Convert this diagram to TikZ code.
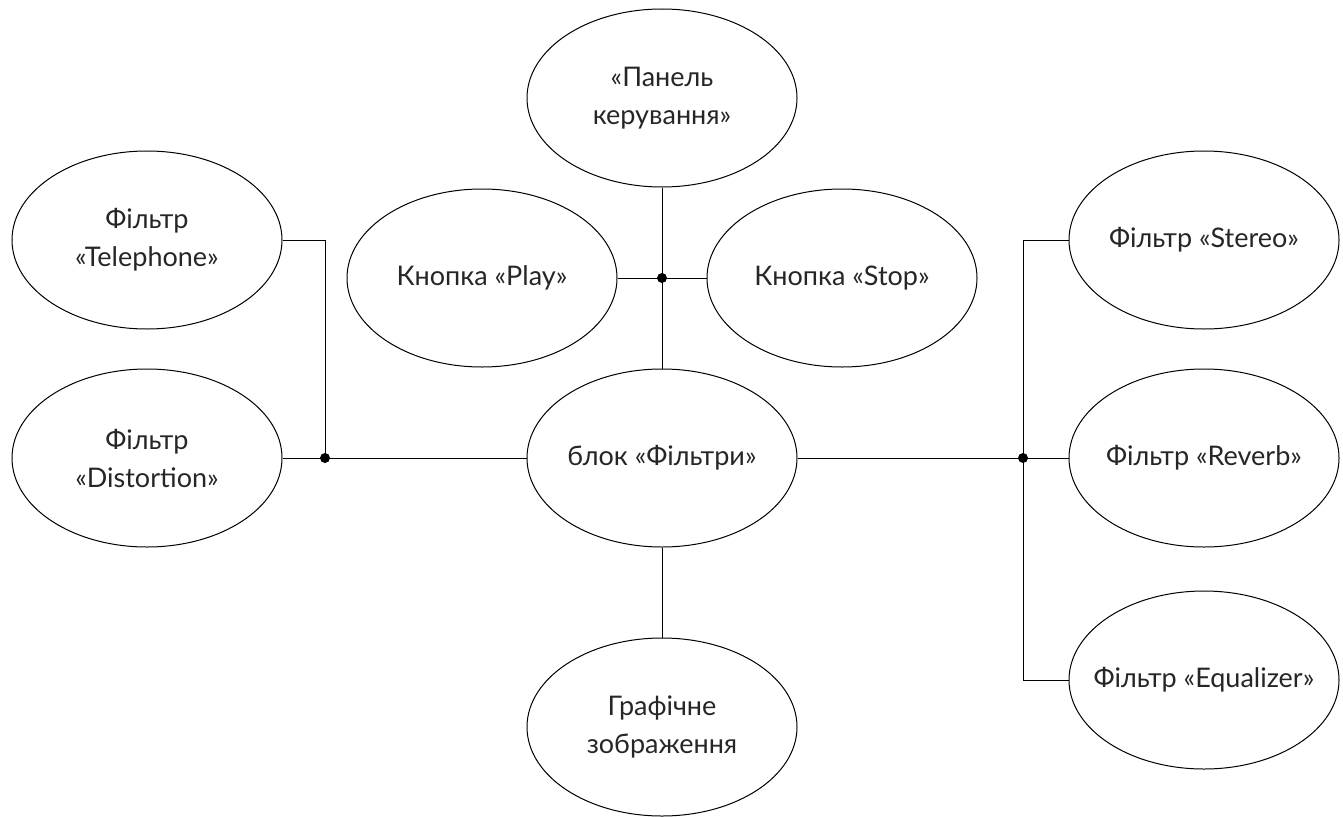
\documentclass[tikz,border=0pt]{standalone}
\usepackage{fontspec}
\setmainfont{Lato}
\usetikzlibrary{shapes.geometric}
\begin{document}
\begin{tikzpicture}[x=1pt,y=-1pt,
  usecase/.style={draw=black, line width=1pt, ellipse, minimum width=270pt, minimum height=178pt, inner sep=0pt,
    label={[lbl]center:#1}},
  lbl/.style={align=center, font=\fontsize{27}{38}\selectfont, text=black!85, inner sep=0pt},
  link/.style={draw=black, line width=1pt},
  junction/.style={circle, fill=black, inner sep=0pt, minimum size=10pt}]
\useasboundingbox (0,0) rectangle (1343,816);
\node[usecase={«Панель\\керування»}] (panel) at (662,98) {};
\node[usecase={Кнопка «Play»}] (play) at (482,278) {};
\node[usecase={Кнопка «Stop»}] (stop) at (842,278) {};
\node[usecase={блок «Фільтри»}] (filters) at (662,458) {};
\node[usecase={Графічне\\зображення}] (graph) at (662,727) {};
\node[usecase={Фільтр\\«Telephone»}] (tel) at (147,240) {};
\node[usecase={Фільтр\\«Distortion»}] (dist) at (147,458) {};
\node[usecase={Фільтр «Stereo»}] (stereo) at (1204,240) {};
\node[usecase={Фільтр «Reverb»}] (reverb) at (1204,458) {};
\node[usecase={Фільтр «Equalizer»}] (eq) at (1204,680) {};
\coordinate (jc) at (662,278);
\coordinate (jl) at (325,458);
\coordinate (jr) at (1023,458);
\draw[link] (panel.south) -- (filters.north);
\draw[link] (play.east) -- (stop.west);
\draw[link] (filters.south) -- (graph.north);
\draw[link] (tel.east) -| (jl);
\draw[link] (dist.east) -- (filters.west);
\draw[link] (filters.east) -- (reverb.west);
\draw[link] (stereo.west) -| (jr);
\draw[link] (eq.west) -| (jr);
\node[junction] (dc) at (jc) {};
\node[junction] (dl) at (jl) {};
\node[junction] (dr) at (jr) {};
\end{tikzpicture}
\end{document}
